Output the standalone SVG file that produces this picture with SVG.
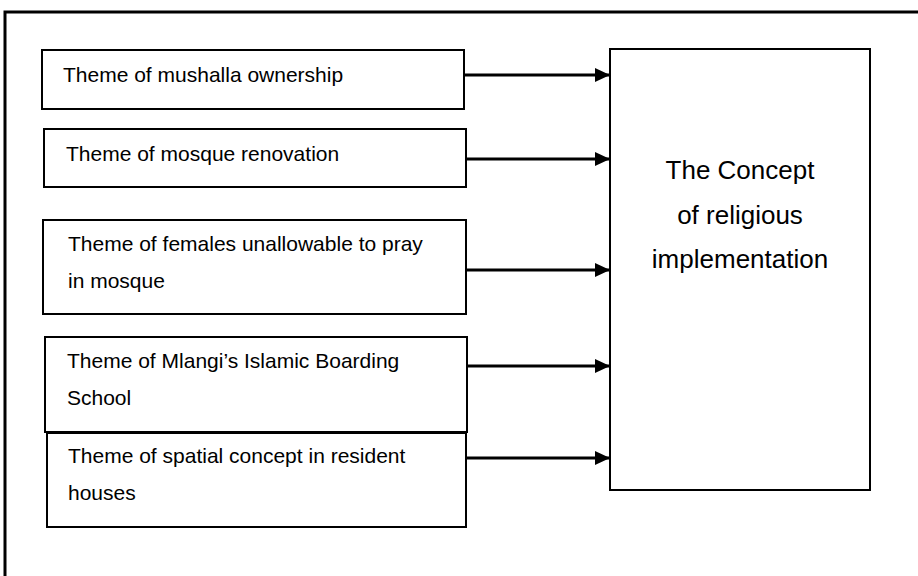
<svg xmlns="http://www.w3.org/2000/svg" width="918" height="576" viewBox="0 0 918 576">
  <defs>
    <marker id="arrow" markerUnits="userSpaceOnUse" markerWidth="16" markerHeight="16" refX="15" refY="8" orient="auto">
      <path d="M0,1 L15,8 L0,15 Z" fill="#000"/>
    </marker>
    <style>
      .frame { fill: none; stroke: #000; stroke-width: 3; }
      .box { fill: #fff; stroke: #000; stroke-width: 2; }
      .theme { font-family: "Liberation Sans", Arial, sans-serif; font-size: 21px; fill: #000; }
      .concept { font-family: "Liberation Sans", Arial, sans-serif; font-size: 26px; fill: #000; text-anchor: middle; }
      .link { stroke: #000; stroke-width: 3; fill: none; marker-end: url(#arrow); }
    </style>
  </defs>

  <rect x="0" y="0" width="918" height="576" fill="#fff"/>
  <!-- outer frame, running off the right and bottom edges -->
  <rect class="frame" x="5" y="12" width="940" height="620"/>

  <g id="connectors">
    <line class="link" x1="464" y1="75" x2="610" y2="75"/>
    <line class="link" x1="466" y1="159" x2="610" y2="159"/>
    <line class="link" x1="466" y1="270" x2="610" y2="270"/>
    <line class="link" x1="467" y1="366" x2="610" y2="366"/>
    <line class="link" x1="466" y1="458" x2="610" y2="458"/>
  </g>

  <g id="theme-mushalla">
    <rect class="box" x="42" y="50" width="422" height="59"/>
    <text class="theme" x="63" y="82">Theme of mushalla ownership</text>
  </g>

  <g id="theme-renovation">
    <rect class="box" x="44" y="129" width="422" height="58"/>
    <text class="theme" x="66" y="161">Theme of mosque renovation</text>
  </g>

  <g id="theme-females">
    <rect class="box" x="43" y="220" width="423" height="94"/>
    <text class="theme" x="68" y="251">Theme of females unallowable to pray</text>
    <text class="theme" x="68" y="288">in mosque</text>
  </g>

  <g id="theme-boarding-school">
    <rect class="box" x="45" y="337" width="422" height="95"/>
    <text class="theme" x="67" y="368">Theme of Mlangi’s Islamic Boarding</text>
    <text class="theme" x="67" y="405">School</text>
  </g>

  <g id="theme-spatial">
    <rect class="box" x="47" y="433" width="419" height="94"/>
    <text class="theme" x="68" y="463">Theme of spatial concept in resident</text>
    <text class="theme" x="68" y="500">houses</text>
  </g>

  <g id="concept">
    <rect class="box" x="610" y="49" width="260" height="441"/>
    <text class="concept" x="740" y="179">The Concept</text>
    <text class="concept" x="740" y="224">of religious</text>
    <text class="concept" x="740" y="268">implementation</text>
  </g>
</svg>
